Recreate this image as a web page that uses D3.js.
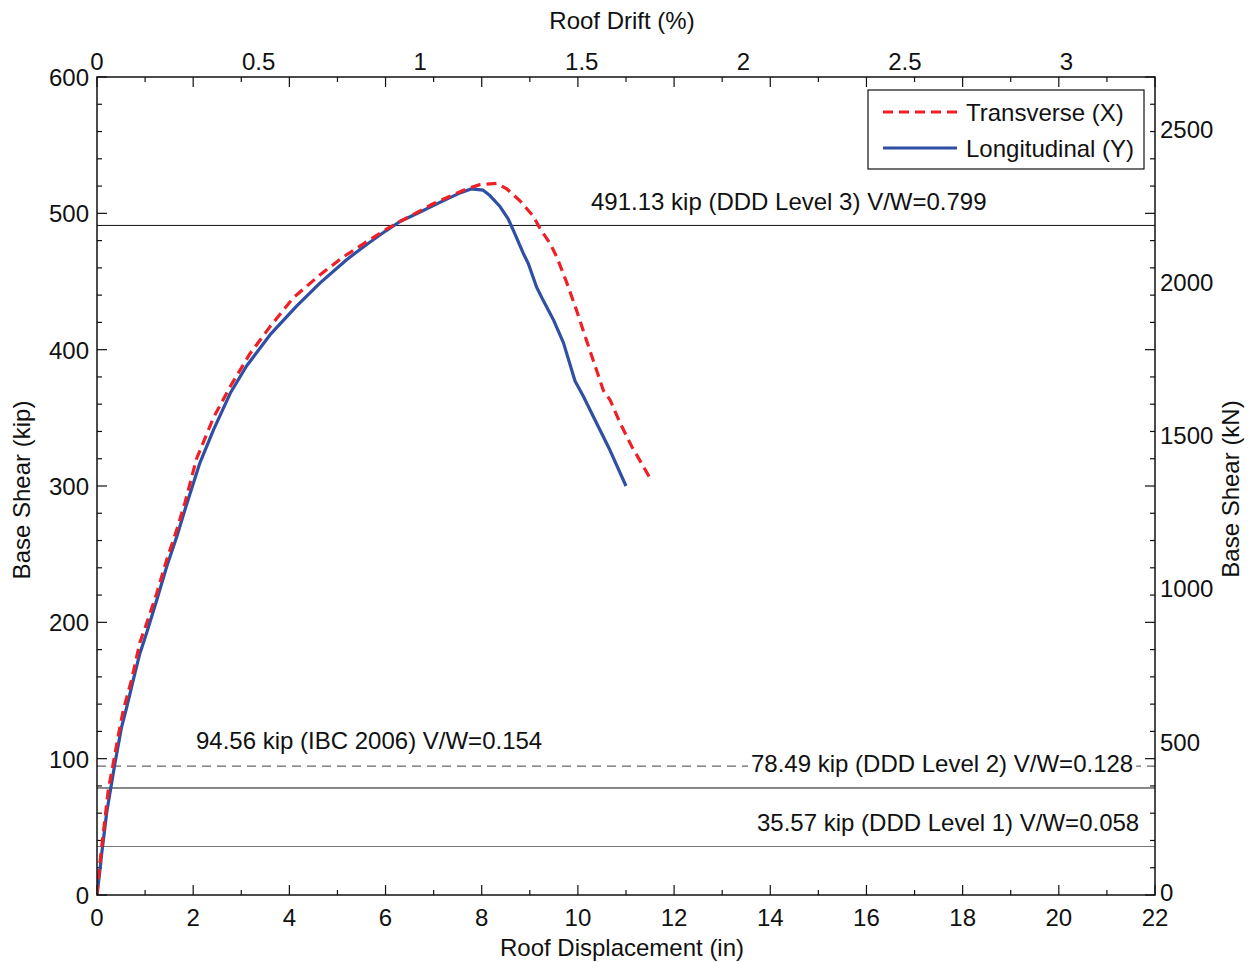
<!DOCTYPE html>
<html>
<head>
<meta charset="utf-8">
<script src="https://cdn.jsdelivr.net/npm/d3@7"></script>
<style>
  body { margin: 0; background: #fff; }
  text { font-family: "Liberation Sans", Arial, sans-serif; fill: #111; }
</style>
</head>
<body>
<div id="wrapper"></div>
<script>
// transverse (X) pushover curve, roof displacement (in) vs base shear (kip)
const dispTrans = [0, 0.05, 0.1, 0.235, 0.34, 0.48, 0.55, 0.72, 0.89, 1.03, 1.24, 1.45, 1.66, 1.83, 2.07, 2.42, 2.77, 3.18, 3.6, 4.08, 4.64, 5.12, 5.6, 6.0, 6.3, 6.99, 7.69, 7.96, 8.31, 8.52, 8.8, 9.07, 9.21, 9.42, 9.56, 9.77, 9.97, 10.11, 10.32, 10.53, 10.67, 10.88, 11.12, 11.48];
const shearTrans = [0, 20, 36, 77, 97, 124, 136, 158, 185, 199, 221, 246, 268, 288, 320, 350, 373, 397, 417, 438, 455, 468, 479, 488, 494, 507, 518, 521, 522, 518, 509, 498, 489, 478, 468, 449, 429, 414, 392, 370, 363, 346, 329, 307];

// longitudinal (Y)
const dispLong = [0, 0.06, 0.1, 0.2, 0.27, 0.37, 0.51, 0.62, 0.79, 0.89, 1.03, 1.24, 1.45, 1.66, 1.85, 2.14, 2.42, 2.77, 3.11, 3.6, 4.15, 4.64, 5.19, 5.6, 6.0, 6.3, 6.72, 7.13, 7.55, 7.79, 8.03, 8.17, 8.38, 8.55, 8.69, 8.86, 8.97, 9.14, 9.28, 9.49, 9.7, 9.94, 10.11, 10.32, 10.67, 11.0];
const shearLong = [0, 18, 31, 60, 75, 96, 123, 138, 163, 177, 192, 216, 241, 263, 285, 317, 341, 368, 388, 411, 432, 449, 466, 477, 487, 494, 501, 508, 515, 518, 517, 513, 505, 496, 485, 471, 463, 446, 436, 422, 405, 377, 366, 351, 326, 300];

// design base shear levels
const refLevels = [491.13, 94.56, 78.49, 35.57];
const refLabels = [
  "491.13 kip (DDD Level 3) V/W=0.799",
  "94.56 kip (IBC 2006) V/W=0.154",
  "78.49 kip (DDD Level 2) V/W=0.128",
  "35.57 kip (DDD Level 1) V/W=0.058",
];

const xTicks = [0, 2, 4, 6, 8, 10, 12, 14, 16, 18, 20, 22];
const yTicks = [0, 100, 200, 300, 400, 500, 600];
const driftTicks = [0, 0.5, 1, 1.5, 2, 2.5, 3];
const kNTicks = [0, 500, 1000, 1500, 2000, 2500];
const seriesNames = ["Transverse (X)", "Longitudinal (Y)"];

async function drawChart() {
  const roofHeight = 672; // in, 3% drift ~ 20.17 in
  const kipToKN = 4.448;

  let dimensions = {
    width: 1250,
    height: 962,
    margin: { top: 77, right: 95, bottom: 67, left: 97 },
  };
  dimensions.boundedWidth = dimensions.width - dimensions.margin.left - dimensions.margin.right;
  dimensions.boundedHeight = dimensions.height - dimensions.margin.top - dimensions.margin.bottom;
  const W = dimensions.boundedWidth;
  const H = dimensions.boundedHeight;

  const wrapper = d3.select("#wrapper")
    .append("svg")
    .attr("width", dimensions.width)
    .attr("height", dimensions.height);

  const bounds = wrapper.append("g")
    .attr("transform", `translate(${dimensions.margin.left},${dimensions.margin.top})`);

  // scales
  const xScale = d3.scaleLinear().domain([0, 22]).range([0, W]);
  const yScale = d3.scaleLinear().domain([0, 600]).range([H, 0]);
  const driftScale = d3.scaleLinear().domain([0, 22 / roofHeight * 100]).range([0, W]);
  const kNScale = d3.scaleLinear().domain([0, 600 * kipToKN]).range([H, 0]);

  bounds.append("clipPath").attr("id", "clip")
    .append("rect").attr("width", W).attr("height", H);

  // minor/major ticks (inward, mirrored on all sides)
  const xMinor = d3.range(0, 23, 1);
  const yMinor = d3.range(0, 601, 20);
  const ticks = bounds.append("g").attr("stroke", "#111").attr("stroke-width", 1.2);
  xMinor.forEach((v) => {
    const len = v % 2 === 0 ? 10 : 5;
    ticks.append("line").attr("x1", xScale(v)).attr("x2", xScale(v)).attr("y1", H).attr("y2", H - len);
    ticks.append("line").attr("x1", xScale(v)).attr("x2", xScale(v)).attr("y1", 0).attr("y2", len);
  });
  yMinor.forEach((v) => {
    const len = v % 100 === 0 ? 10 : 5;
    ticks.append("line").attr("y1", yScale(v)).attr("y2", yScale(v)).attr("x1", 0).attr("x2", len);
    ticks.append("line").attr("y1", yScale(v)).attr("y2", yScale(v)).attr("x1", W).attr("x2", W - len);
  });

  // tick labels
  const fs = 24;
  const labels = bounds.append("g").style("font-size", fs + "px");
  xTicks.forEach((v) => {
    labels.append("text").attr("x", xScale(v)).attr("y", H + 31)
      .attr("text-anchor", "middle").text(v);
  });
  yTicks.forEach((v) => {
    labels.append("text").attr("x", -8).attr("y", yScale(v) + 9)
      .attr("text-anchor", "end").text(v);
  });
  driftTicks.forEach((v) => {
    labels.append("text").attr("x", driftScale(v)).attr("y", -7)
      .attr("text-anchor", "middle").text(v);
  });
  kNTicks.forEach((v) => {
    labels.append("text").attr("x", W + 5).attr("y", kNScale(v) + (v === 0 ? 6 : 9))
      .attr("text-anchor", "start").text(v);
  });

  // axis titles
  labels.append("text").attr("x", W / 2 - 4).attr("y", H + 61)
    .attr("text-anchor", "middle").text("Roof Displacement (in)");
  labels.append("text").attr("x", W / 2 - 4).attr("y", -48)
    .attr("text-anchor", "middle").text("Roof Drift (%)");
  labels.append("text")
    .attr("transform", `translate(${-67},${H / 2 + 4}) rotate(-90)`)
    .attr("text-anchor", "middle").text("Base Shear (kip)");
  labels.append("text")
    .attr("transform", `translate(${W + 84},${H / 2 + 3}) rotate(-90)`)
    .attr("text-anchor", "middle").text("Base Shear (kN)");

  // reference lines
  const refStyle = [
    { stroke: "#111", dash: null, width: 1 },
    { stroke: "#666", dash: "9,6", width: 1.2 },
    { stroke: "#111", dash: null, width: 1 },
    { stroke: "#777", dash: null, width: 1.2 },
  ];
  const refs = bounds.append("g");
  refLevels.forEach((v, i) => {
    refs.append("line")
      .attr("x1", 0).attr("x2", W)
      .attr("y1", yScale(v)).attr("y2", yScale(v))
      .attr("stroke", refStyle[i].stroke)
      .attr("stroke-width", refStyle[i].width)
      .attr("stroke-dasharray", refStyle[i].dash);
  });

  // label offsets (baseline relative to the line)
  const refLabelPos = [
    { x: 494, dy: -15.5 },
    { x: 99, dy: -17.5 },
    { x: 654, dy: -15.5 },
    { x: 660, dy: -16 },
  ];
  refLevels.forEach((v, i) => {
    const t = refs.append("text")
      .attr("x", refLabelPos[i].x)
      .attr("y", yScale(v) + refLabelPos[i].dy)
      .style("font-size", fs + "px")
      .text(refLabels[i]);
    if (i === 2) {
      const bb = t.node().getBBox();
      refs.insert("rect", "text:last-of-type")
        .attr("x", bb.x - 3).attr("y", bb.y)
        .attr("width", bb.width + 6).attr("height", bb.height)
        .attr("fill", "#fff");
    }
  });

  // curves
  const line = d3.line()
    .x((d) => xScale(d[0]))
    .y((d) => yScale(d[1]));
  const transData = dispTrans.map((d, i) => [d, shearTrans[i]]);
  const longData = dispLong.map((d, i) => [d, shearLong[i]]);

  const curves = bounds.append("g").attr("clip-path", "url(#clip)");
  curves.append("path")
    .attr("d", line(longData))
    .attr("fill", "none")
    .attr("stroke", "#2f4fa5")
    .attr("stroke-width", 3.2)
    .attr("stroke-linejoin", "round");
  curves.append("path")
    .attr("d", line(transData))
    .attr("fill", "none")
    .attr("stroke", "#ee2026")
    .attr("stroke-width", 3.2)
    .attr("stroke-dasharray", "10,6");

  // frame
  bounds.append("rect")
    .attr("width", W).attr("height", H)
    .attr("fill", "none").attr("stroke", "#111").attr("stroke-width", 1.5);

  // legend
  const legend = bounds.append("g").attr("transform", `translate(${W - 287},${13})`);
  legend.append("rect")
    .attr("width", 276).attr("height", 79)
    .attr("fill", "#fff").attr("stroke", "#111").attr("stroke-width", 1.2);
  const legendColors = ["#ee2026", "#2f4fa5"];
  const legendDash = ["10,6", null];
  seriesNames.forEach((name, i) => {
    const y = 22 + i * 36;
    legend.append("line")
      .attr("x1", 15).attr("x2", 89).attr("y1", y).attr("y2", y)
      .attr("stroke", legendColors[i]).attr("stroke-width", 3.2)
      .attr("stroke-dasharray", legendDash[i]);
    legend.append("text")
      .attr("x", 98).attr("y", y + 9)
      .style("font-size", fs + "px")
      .text(name);
  });
}
drawChart();
</script>
</body>
</html>
